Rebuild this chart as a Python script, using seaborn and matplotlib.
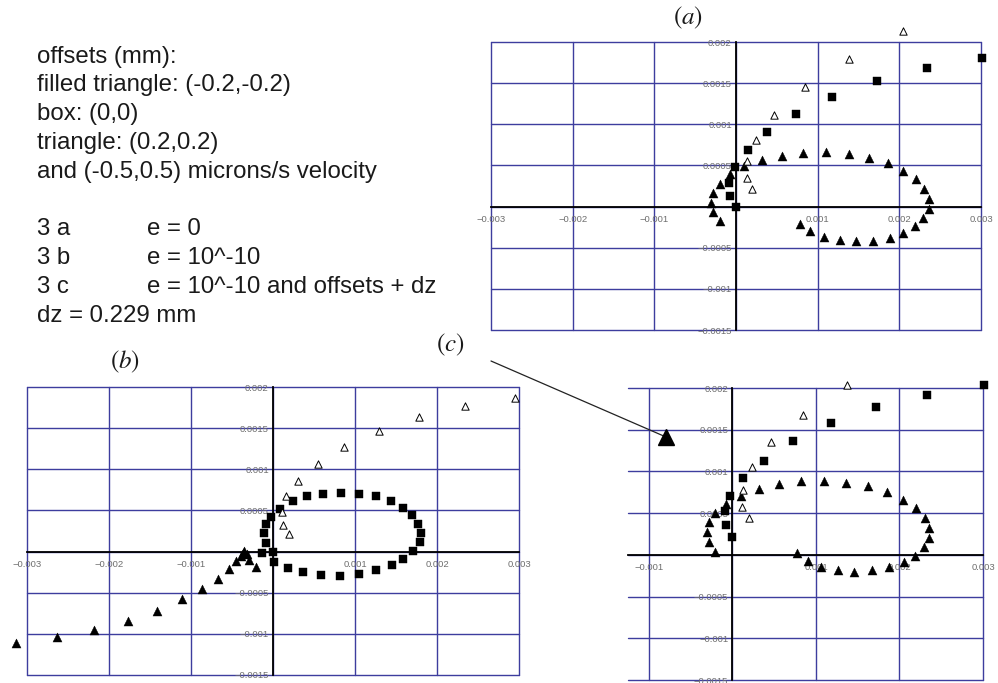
import matplotlib
matplotlib.use("Agg")
import matplotlib.pyplot as plt
from matplotlib.lines import Line2D
import seaborn as sns
import numpy as np

# ---- data ----
# panel (a)  e = 0
A_OPEN_X = [0.00205, 0.00138, 0.00085, 0.00047, 0.00024, 0.00013, 0.00013, 0.00020]
A_OPEN_Y = [0.00213, 0.00179, 0.00145, 0.00111, 0.00081, 0.00055, 0.00035, 0.00021]
A_BOX_X = [0.00301, 0.00234, 0.00173, 0.00118, 0.00074, 0.00038, 0.00015, -0.00001, -0.00009, -0.00007, 0.0]
A_BOX_Y = [0.00181, 0.00169, 0.00153, 0.00133, 0.00113, 0.00091, 0.00069, 0.00048, 0.00029, 0.00013, 0.0]
A_FILL_X = [-0.00031, -0.00028, -0.00020, -0.00007, 0.00010, 0.00032, 0.00056, 0.00082, 0.00110, 0.00138,
            0.00163, 0.00186, 0.00205, 0.00220, 0.00230, 0.00236, 0.00236, 0.00229, 0.00219, 0.00205,
            0.00188, 0.00168, 0.00147, 0.00127, 0.00108, 0.00091, 0.00078, -0.00020, -0.00028]
A_FILL_Y = [0.00004, 0.00017, 0.00028, 0.00039, 0.00049, 0.00056, 0.00062, 0.00065, 0.00066, 0.00064,
            0.00059, 0.00053, 0.00043, 0.00033, 0.00021, 0.00009, -0.00003, -0.00014, -0.00024, -0.00032,
            -0.00038, -0.00042, -0.00042, -0.00041, -0.00037, -0.00030, -0.00021, -0.00017, -0.00007]

# panel (b)  e = 10^-10
B_OPEN_X = [0.00295, 0.00234, 0.00178, 0.00129, 0.00087, 0.00055, 0.00031, 0.00016, 0.00011, 0.00012, 0.00020]
B_OPEN_Y = [0.00187, 0.00177, 0.00163, 0.00147, 0.00127, 0.00107, 0.00086, 0.00067, 0.00048, 0.00032, 0.00021]
B_BOX_X = [0.00008, 0.00024, 0.00042, 0.00061, 0.00083, 0.00105, 0.00125, 0.00144, 0.00159, 0.00170,
           0.00177, 0.00181, 0.00179, 0.00171, 0.00159, 0.00145, 0.00125, 0.00105, 0.00082, 0.00059,
           0.00037, 0.00018, 0.00001, 0.0, -0.00013, -0.00008, -0.00011, -0.00009, -0.00003]
B_BOX_Y = [0.00052, 0.00061, 0.00067, 0.00070, 0.00071, 0.00070, 0.00067, 0.00061, 0.00053, 0.00044,
           0.00034, 0.00023, 0.00012, 0.00001, -0.00009, -0.00016, -0.00023, -0.00027, -0.00030, -0.00029,
           -0.00025, -0.00020, -0.00013, 0.0, -0.00002, 0.00011, 0.00022, 0.00033, 0.00042]
B_FILL_X = [-0.00314, -0.00264, -0.00218, -0.00177, -0.00141, -0.00111, -0.00086, -0.00067, -0.00054,
            -0.00045, -0.00039, -0.00035, -0.00032, -0.00029, -0.00021, -0.00037]
B_FILL_Y = [-0.00111, -0.00104, -0.00095, -0.00084, -0.00072, -0.00058, -0.00045, -0.00033, -0.00021,
            -0.00012, -0.00005, 0.00001, -0.00003, -0.00010, -0.00019, -0.00002]

# panel (c)  e = 10^-10 and offsets + dz
C_OPEN_X = [0.00137, 0.00084, 0.00046, 0.00023, 0.00013, 0.00012, 0.00020]
C_OPEN_Y = [0.00203, 0.00168, 0.00135, 0.00105, 0.00078, 0.00057, 0.00044]
C_BOX_X = [0.00301, 0.00233, 0.00172, 0.00118, 0.00073, 0.00038, 0.00013, -0.00003, -0.00009, -0.00008, 0.0]
C_BOX_Y = [0.00204, 0.00192, 0.00177, 0.00158, 0.00136, 0.00113, 0.00092, 0.00070, 0.00052, 0.00036, 0.00022]
C_FILL_X = [-0.00021, -0.00028, -0.00031, -0.00028, -0.00021, -0.00008, 0.00010, 0.00032, 0.00056, 0.00082,
            0.00110, 0.00136, 0.00162, 0.00185, 0.00204, 0.00220, 0.00230, 0.00235, 0.00235, 0.00229,
            0.00218, 0.00205, 0.00187, 0.00167, 0.00146, 0.00126, 0.00106, 0.00090, 0.00077]
C_FILL_Y = [0.00004, 0.00015, 0.00027, 0.00039, 0.00050, 0.00061, 0.00071, 0.00079, 0.00085, 0.00088,
            0.00089, 0.00086, 0.00082, 0.00075, 0.00066, 0.00056, 0.00044, 0.00032, 0.00020, 0.00009,
            -0.00001, -0.00009, -0.00015, -0.00018, -0.00020, -0.00018, -0.00014, -0.00007, 0.00002]

# tick values / labels
X_TICKS_FULL = [-0.003, -0.002, -0.001, 0.0, 0.001, 0.002, 0.003]
X_LABELS_FULL = ['\u22120.003', '\u22120.002', '\u22120.001', '', '0.001', '0.002', '0.003']
X_TICKS_C = [-0.001, 0.0, 0.001, 0.002, 0.003]
X_LABELS_C = ['\u22120.001', '', '0.001', '0.002', '0.003']
Y_TICKS = [-0.0015, -0.001, -0.0005, 0.0, 0.0005, 0.001, 0.0015, 0.002]
Y_LABELS = ['\u22120.0015', '\u22120.001', '\u22120.0005', '', '0.0005', '0.001', '0.0015', '0.002']

NOTE_LEFT = ['offsets (mm):', 'filled triangle: (-0.2,-0.2)', 'box: (0,0)', 'triangle: (0.2,0.2)',
             'and (-0.5,0.5) microns/s velocity', '', '3 a', '3 b', '3 c', 'dz = 0.229 mm']
NOTE_RIGHT = ['', '', '', '', '', '', 'e = 0', 'e = 10^-10', 'e = 10^-10 and offsets + dz', '']

# ---- style ----
sns.set_theme(style="white")
plt.rcParams['font.family'] = ['Liberation Sans', 'DejaVu Sans']
plt.rcParams['mathtext.fontset'] = 'stix'

W, H = 998, 683
GRID = '#3d3d9e'
fig = plt.figure(figsize=(W / 100, H / 100), dpi=100)


def px_rect(x0, y0, x1, y1):
    return [x0 / W, 1 - y1 / H, (x1 - x0) / W, (y1 - y0) / H]


def panel(rect, xlim, xticks, xlabels, fill, box, opn):
    ax = fig.add_axes(rect)
    ax.set_facecolor('none')
    ax.set_xlim(xlim)
    ax.set_ylim(-0.0015, 0.002)
    for x in xticks:
        ax.axvline(x, color=GRID, lw=1.0, zorder=0.5, clip_on=False)
    for y in Y_TICKS:
        ax.axhline(y, color=GRID, lw=1.0, zorder=0.5, clip_on=False)
    for s in ['top', 'right']:
        ax.spines[s].set_visible(False)
    for s in ['left', 'bottom']:
        ax.spines[s].set_position(('data', 0))
        ax.spines[s].set_color('black')
        ax.spines[s].set_linewidth(1.3)
        ax.spines[s].set_zorder(2)
    ax.set_xticks(xticks, labels=xlabels)
    ax.set_yticks(Y_TICKS, labels=Y_LABELS)
    ax.set_xticks(np.arange(-0.003, 0.0031, 0.0002), minor=True)
    ax.set_yticks(np.arange(-0.0015, 0.00201, 0.0001), minor=True)
    ax.set_xlim(xlim)
    ax.tick_params(axis='both', which='both', direction='in', length=3.5, width=0.9,
                   color='black', labelsize=6.8, labelcolor='#6e6e6e')
    ax.tick_params(axis='x', which='major', pad=6)
    ax.tick_params(axis='y', which='major', pad=3)

    sns.scatterplot(x=fill[0], y=fill[1], marker='^', s=42, color='black', edgecolor='black',
                    linewidth=0.3, ax=ax, zorder=3, clip_on=False, legend=False)
    sns.scatterplot(x=box[0], y=box[1], marker='s', s=38, color='black', edgecolor='black',
                    linewidth=0.3, ax=ax, zorder=3, clip_on=False, legend=False)
    sns.scatterplot(x=opn[0], y=opn[1], marker='^', s=28, color='white', edgecolor='black',
                    linewidth=0.7, ax=ax, zorder=3, clip_on=False, legend=False)
    ax.set_xlabel('')
    ax.set_ylabel('')
    return ax


ax_a = panel(px_rect(491, 42, 981, 330), (-0.003, 0.003), X_TICKS_FULL, X_LABELS_FULL,
             (A_FILL_X, A_FILL_Y), (A_BOX_X, A_BOX_Y), (A_OPEN_X, A_OPEN_Y))
ax_b = panel(px_rect(27, 387, 519, 675), (-0.003, 0.003), X_TICKS_FULL, X_LABELS_FULL,
             (B_FILL_X, B_FILL_Y), (B_BOX_X, B_BOX_Y), (B_OPEN_X, B_OPEN_Y))
ax_c = panel(px_rect(628, 388, 983, 680), (-0.00125, 0.003), X_TICKS_C, X_LABELS_C,
             (C_FILL_X, C_FILL_Y), (C_BOX_X, C_BOX_Y), (C_OPEN_X, C_OPEN_Y))

# panel labels
for lab, (px, py) in zip(['a', 'b', 'c'], [(688, 18), (125, 362), (450, 345)]):
    fig.text(px / W, 1 - py / H, r'$(%s)$' % lab, fontsize=18, ha='center', va='center', color='#1a1a1a')

# arrow from (c) label to panel (c)
fig.add_artist(Line2D([491 / W, 666 / W], [1 - 361 / H, 1 - 437 / H], transform=fig.transFigure,
                      color='#222222', lw=0.9, marker='^', markevery=[1], markersize=11,
                      markerfacecolor='black', markeredgecolor='black'))

# notes
for i, (left, right) in enumerate(zip(NOTE_LEFT, NOTE_RIGHT)):
    yb = 1 - (62.7 + 28.8 * i) / H
    if left:
        fig.text(37 / W, yb, left, fontsize=17.3, va='baseline', color='#1a1a1a')
    if right:
        fig.text(147 / W, yb, right, fontsize=17.3, va='baseline', color='#1a1a1a')

fig.savefig('out.png', dpi=100)
